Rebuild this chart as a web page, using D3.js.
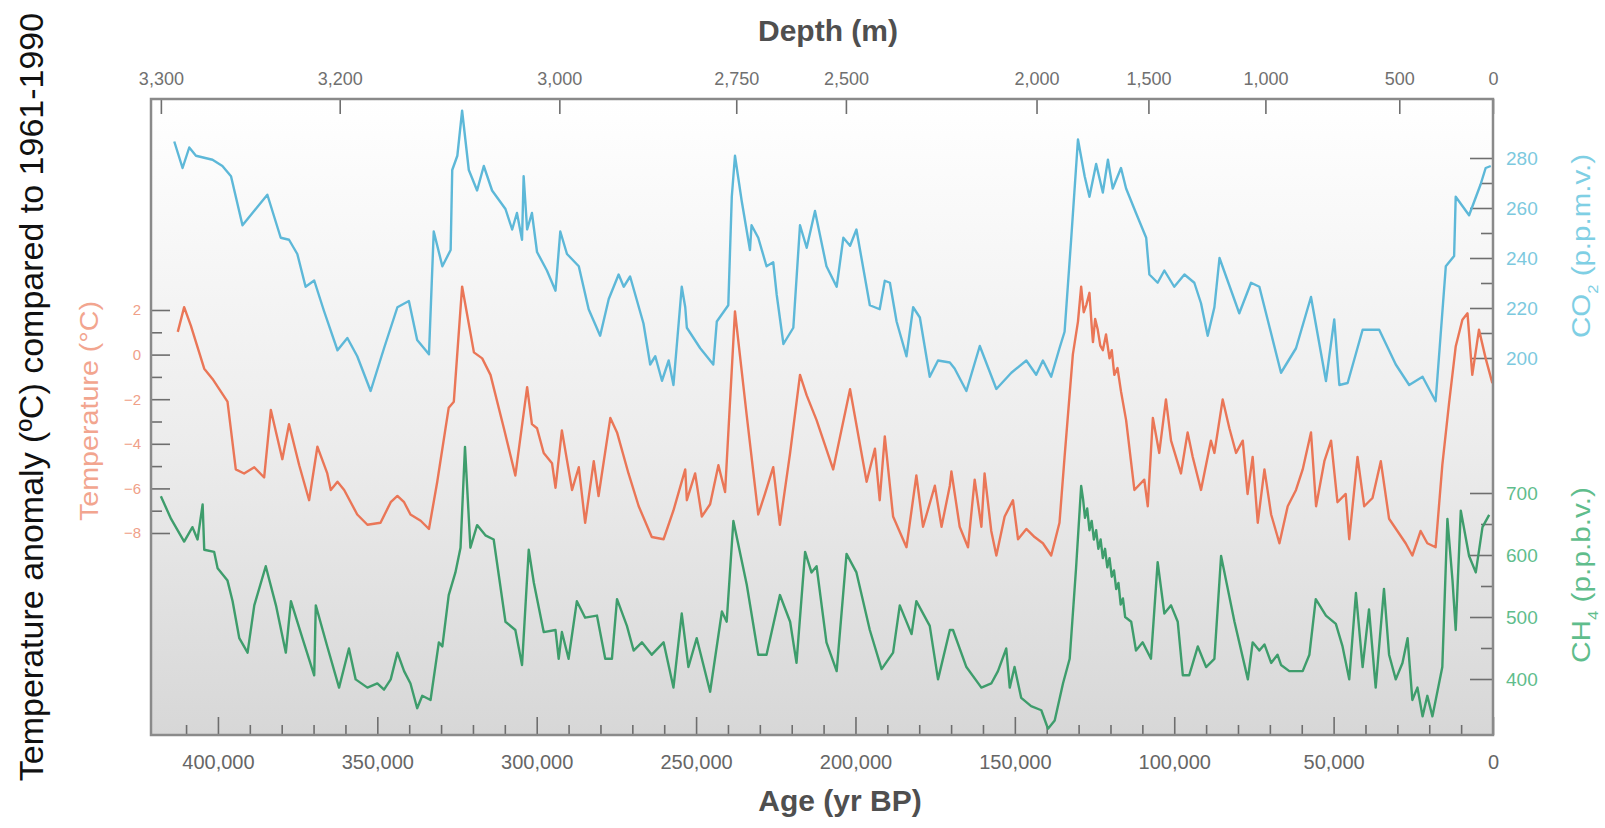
<!DOCTYPE html>
<html>
<head>
<meta charset="utf-8">
<script src="https://cdn.jsdelivr.net/npm/d3@7"></script>
<style>
  body { margin: 0; background: #fff; }
  svg { display: block; font-family: "Liberation Sans", Arial, Helvetica, sans-serif; }
</style>
</head>
<body>
<div id="chart"></div>
<script>
// ages are in thousands of years BP
const co2Data = [
  [413.7,286.6],[411.1,276.0],[409.0,284.2],[406.9,280.9],[401.7,279.3],[398.6,276.8],[395.9,272.7],[392.3,253.1],
  [384.5,265.3],[380.3,248.1],[377.7,247.3],[375.1,241.6],[372.5,228.5],[369.8,231.0],[366.7,218.7],[362.5,203.1],
  [359.4,208.0],[356.3,200.7],[352.1,186.8],[347.9,203.9],[343.7,220.3],[340.1,222.8],[337.5,207.2],
  [333.8,201.5],[332.3,250.6],[329.6,236.7],[327.0,243.2],[326.5,275.2],[324.9,280.9],[323.4,298.9],[321.3,275.2],
  [318.7,267.0],[316.6,276.8],[314.0,267.0],[309.8,259.6],[307.7,251.4],[306.2,258.0],[304.6,247.3],[304.1,272.7],
  [303.0,251.4],[301.5,258.0],[299.9,242.4],[296.8,235.0],[294.1,226.9],[292.6,250.6],[290.5,241.6],[286.8,236.7],
  [283.7,219.5],[280.1,208.9],[277.4,223.6],[274.3,233.4],[272.7,228.5],[270.7,232.6],[266.5,213.8],[264.4,197.4],
  [262.8,200.7],[260.7,190.9],[258.6,199.0],[257.1,189.2],[254.5,228.5],[253.4,220.3],
  [252.9,212.1],[248.7,203.9],[244.6,197.4],[243.5,214.6],[239.9,221.1],[238.8,264.5],[237.8,280.9],[235.7,262.9],
  [233.1,243.2],[232.6,253.1],[230.5,248.1],[227.9,236.7],[225.8,238.3],[224.7,225.2],[222.6,205.6],[219.5,212.1],
  [217.4,253.1],[215.3,244.1],[212.7,258.8],[209.1,236.7],[205.9,228.5],[203.8,248.1],[201.7,244.9],[199.7,251.4],
  [195.5,221.1],[192.4,219.5],[190.8,230.9],[189.2,230.1],[187.1,214.6],[184.0,200.7],[181.9,220.3],[179.8,216.2],
  [176.7,192.5],[174.1,199.0],[170.4,198.2],
  [168.9,195.8],[165.2,186.8],[161.0,204.8],[155.8,187.6],[151.1,194.1],[146.4,199.0],[143.3,193.3],[141.2,199.0],
  [138.6,192.5],[136.0,203.9],[134.4,210.5],[132.3,248.1],[130.2,287.4],[128.1,272.7],[126.6,264.5],[124.5,277.6],
  [122.4,266.2],[120.8,279.3],[119.3,267.8],[116.7,276.0],[115.1,267.8],[112.0,258.0],[108.8,248.1],[107.8,233.4],
  [105.2,230.1],[103.1,235.0],[100.0,228.5],[96.8,233.4],[93.7,230.1],[91.6,221.9],[89.5,208.9],[87.4,220.3],
  [85.8,240.0],[79.6,217.9],[75.9,230.1],[73.3,228.5],[66.5,194.1],[61.8,203.9],[57.1,224.4],[52.4,190.8],
  [49.8,215.4],[48.2,189.2],[45.6,190.0],[40.9,211.3],[35.7,211.3],[30.5,197.4],[26.3,189.2],[22.1,192.5],
  [18.0,182.7],[14.8,236.7],[12.2,240.8],[11.7,264.5],[7.5,257.1],[3.9,269.4],[2.3,276.0],[0.7,276.8]
];

const tempData = [
  [412.6,1.02],[410.6,2.13],[408.5,1.30],[404.3,-0.63],[401.7,-1.09],[397.0,-2.11],[394.4,-5.15],[391.8,-5.33],
  [388.6,-5.05],[385.5,-5.51],[383.4,-2.48],[379.8,-4.69],[377.7,-3.12],[374.5,-4.96],[371.4,-6.53],[368.8,-4.13],
  [365.7,-5.33],[364.6,-6.07],[362.5,-5.70],[360.4,-6.07],[356.3,-7.17],[353.1,-7.63],[349.0,-7.54],[345.8,-6.62],
  [343.7,-6.34],[341.6,-6.62],[339.6,-7.17],[336.4,-7.45],
  [333.8,-7.82],[331.2,-5.70],[327.6,-2.38],[326.0,-2.11],[323.4,3.05],[319.7,0.10],[317.1,-0.17],[314.5,-0.91],
  [310.3,-3.30],[306.7,-5.42],[303.0,-1.46],[301.5,-3.12],[299.9,-3.30],[297.8,-4.41],[295.2,-4.87],[294.1,-5.97],
  [292.1,-3.40],[288.9,-6.07],[286.8,-5.05],[284.8,-7.54],[282.1,-4.78],[280.6,-6.34],[276.9,-2.84],[274.8,-3.49],
  [271.2,-5.33],[268.0,-6.80],[263.9,-8.18],[260.2,-8.28],[257.1,-6.99],[253.4,-5.15],
  [252.9,-6.53],[250.3,-5.33],[248.2,-7.26],[245.6,-6.71],[243.0,-4.96],[240.9,-6.16],[237.8,1.94],[234.1,-2.75],
  [230.5,-7.17],[228.4,-6.25],[225.8,-5.05],[223.7,-7.63],[220.5,-4.41],[217.4,-0.91],[215.3,-1.83],[212.2,-2.94],
  [207.0,-5.15],[201.7,-1.55],[196.5,-5.70],[193.9,-4.22],[192.4,-6.53],[190.8,-3.67],[188.2,-7.26],[184.0,-8.64],
  [180.9,-5.42],[178.8,-7.72],[175.1,-5.88],[173.0,-7.72],[170.4,-5.88],
  [169.9,-5.24],[167.3,-7.72],[164.7,-8.64],[162.6,-5.61],[160.5,-7.72],[159.5,-5.33],[157.4,-7.91],[155.8,-9.01],
  [153.2,-7.26],[150.6,-6.53],[149.0,-8.28],[146.4,-7.82],[143.8,-8.18],[141.2,-8.46],[138.6,-9.01],[136.0,-7.54],
  [134.4,-4.59],[131.8,0.01],[130.2,1.48],[129.2,3.05],[128.4,1.9],[127.6,2.22],[126.6,2.77],[125.9,1.3],
  [125.5,0.56],[124.8,1.6],[124.0,1.12],[123.2,0.4],[122.4,0.20],[121.4,0.9],[120.3,-0.17],[119.6,0.2],
  [118.8,-0.91],[117.8,-0.6],[116.7,-1.65],[115.1,-2.94],[112.5,-6.07],[109.4,-5.61],[108.3,-6.80],[106.7,-2.84],
  [104.7,-4.41],[102.6,-2.01],[101.0,-3.86],[97.9,-5.33],[95.8,-3.49],[94.2,-4.59],[91.6,-6.07],[88.5,-3.86],
  [87.4,-4.41],
  [84.8,-2.01],[82.7,-3.30],[80.6,-4.41],[78.5,-3.86],[77.0,-6.25],[75.4,-4.59],[73.8,-7.54],[71.7,-5.15],
  [69.6,-7.17],[67.0,-8.46],[64.4,-6.80],[61.8,-6.07],[59.7,-5.15],[57.1,-3.49],[55.5,-6.80],[52.9,-4.78],
  [50.8,-3.86],[48.8,-6.62],[46.2,-6.25],[45.1,-8.28],[42.5,-4.59],[40.4,-6.80],[37.8,-6.43],[35.2,-4.78],
  [32.6,-7.36],[30.0,-7.91],[27.4,-8.46],[25.3,-9.01],[22.7,-7.91],[20.6,-8.46],[18.0,-8.64],[15.9,-4.96],
  [13.8,-2.20],[11.7,0.36],[9.6,1.56],[8.0,1.85],[6.5,-0.91],[4.4,1.12],[2.3,-0.17],[0.2,-1.28]
];

const ch4Data = [
  [417.9,694.7],[414.7,658.2],[410.6,621.7],[408.0,644.9],[406.4,625.0],[404.8,681.4],[404.3,608.4],[401.2,605.1],
  [400.1,578.6],[397.0,558.7],[395.4,525.5],[393.3,465.8],[390.7,442.5],[388.6,518.8],[385.0,581.9],[381.8,518.8],
  [378.7,442.5],[377.1,525.5],[373.5,465.8],[369.8,406.0],[369.3,518.8],[365.7,452.5],[362.0,386.1],[358.9,449.2],
  [356.8,399.4],[353.1,386.1],[350.0,392.8],[347.9,382.8],[345.8,399.4],[343.7,442.5],[341.6,412.7],[339.6,392.8],
  [337.5,352.9],
  [335.9,372.9],[333.3,366.2],[330.7,459.1],[329.6,452.5],[327.6,535.4],[325.5,571.9],[323.9,611.7],[322.5,774.3],
  [320.8,611.7],[318.7,648.2],[316.1,631.7],[313.5,625.0],[309.8,492.3],[306.7,479.0],[304.6,422.6],[302.5,608.4],
  [300.9,555.3],[297.8,475.7],[294.1,479.0],[293.1,432.6],[292.1,475.7],[290.0,432.6],[287.4,525.5],[284.8,498.9],
  [281.1,502.3],[278.5,432.6],[276.4,432.6],[274.8,528.8],[271.7,485.7],[269.6,445.9],[267.0,459.1],[263.9,439.2],
  [260.2,459.1],[257.1,386.1],[254.5,505.6],
  [252.4,419.3],[249.8,465.8],[245.6,379.5],[241.9,508.9],[240.4,492.3],[238.3,654.9],[234.1,552.0],[230.5,439.2],
  [227.9,439.2],[223.7,535.4],[220.5,492.3],[218.5,426.0],[215.8,605.1],[213.8,571.9],[212.2,581.9],[209.1,459.1],
  [205.9,412.7],[202.8,601.8],[199.7,571.9],[195.5,479.0],[191.8,416.0],[188.2,442.5],[186.1,518.8],[182.4,472.4],
  [180.9,525.5],[176.7,485.7],[174.1,399.4],[170.4,479.0],
  [169.4,479.0],[165.2,419.3],[160.5,386.1],[157.4,392.8],[155.3,412.7],[152.7,449.2],[151.6,386.1],[150.1,419.3],
  [148.0,369.5],[144.9,356.3],[141.7,349.6],[139.6,319.8],[137.5,333.0],[134.9,392.8],[132.8,432.6],[130.8,578.6],
  [129.2,711.3],[128.6,690],[128.0,660],[127.3,675],[126.6,640],[125.9,655],[125.2,625],[124.5,640],[123.8,610],
  [123.1,625],[122.4,595],[121.7,610],[121.0,580],[120.3,595],[119.6,565],[118.9,575],[118.2,545],[117.5,555],
  [116.8,520],[116.1,530],[115.4,500],[113.5,492.3],[112.0,445.9],[109.9,459.1],[107.3,432.6],[105.2,588.5],
  [103.1,505.6],[101.0,518.8],[98.9,492.3],[97.3,406.0],[95.3,406.0],[92.6,452.5],[90.0,419.3],[87.4,432.6],
  [85.3,598.5],[81.1,492.3],[76.9,399.4],[75.4,459.1],[73.3,445.9],[71.7,455.8],[69.6,425.9],[67.6,439.2],
  [66.5,422.6],[63.9,412.7],[59.7,412.7],[57.6,439.2],[55.6,528.8],[52.4,502.3],[49.3,488.9],[47.2,452.5],
  [45.1,399.4],[43.0,538.7],[40.9,419.3],[38.9,512.2],[36.8,386.1],[34.2,545.4],[32.6,439.2],[30.5,399.4],
  [28.4,425.9],[26.8,465.8],[25.3,366.2],[23.7,386.1],[22.1,339.7],[20.6,372.9],[19.0,339.7],[15.9,419.3],
  [14.3,658.2],[12.7,558.7],[11.7,479.0],[10.1,671.5],[7.5,598.5],[5.4,571.9],[3.3,644.9],[1.2,664.8]
];

const ageTicks = [400, 350, 300, 250, 200, 150, 100, 50, 0];
const ageMinorTicks = [410, 390, 380, 370, 360, 340, 330, 320, 310, 290, 280, 270, 260, 240, 230, 220, 210,
  190, 180, 170, 160, 140, 130, 120, 110, 90, 80, 70, 60, 40, 30, 20, 10];
const depthLabels = ["3,300", "3,200", "3,000", "2,750", "2,500", "2,000", "1,500", "1,000", "500", "0"];
const depthAges = [417.9, 361.8, 292.9, 237.4, 203.0, 143.2, 108.1, 71.4, 29.4, 0];
const tempTicks = [2, 0, -2, -4, -6, -8];
const tempMinorTicks = [1, -1, -3, -5, -7];
const co2Ticks = [280, 260, 240, 220, 200];
const co2MinorTicks = [270, 250, 230, 210];
const ch4Ticks = [700, 600, 500, 400];
const ch4MinorTicks = [650, 550, 450];

const width = 1605, height = 828;
const plot = { left: 151, right: 1493, top: 99, bottom: 735 };

const svg = d3.select("#chart").append("svg")
  .attr("width", width)
  .attr("height", height);

// background gradient of the plot box
const grad = svg.append("defs").append("linearGradient")
  .attr("id", "bg").attr("x1", 0).attr("y1", 0).attr("x2", 0).attr("y2", 1);
grad.append("stop").attr("offset", "0%").attr("stop-color", "#ffffff");
grad.append("stop").attr("offset", "55%").attr("stop-color", "#ececec");
grad.append("stop").attr("offset", "100%").attr("stop-color", "#d7d7d7");

svg.append("rect")
  .attr("x", plot.left).attr("y", plot.top)
  .attr("width", plot.right - plot.left).attr("height", plot.bottom - plot.top)
  .attr("fill", "url(#bg)");

const x = d3.scaleLinear().domain([421, 0]).range([plot.left, plot.right]);
const yTemp = d3.scaleLinear().domain([2, -8]).range([310, 533]);
const yCo2 = d3.scaleLinear().domain([280, 200]).range([158, 358]);
const yCh4 = d3.scaleLinear().domain([700, 400]).range([493, 679]);

function styleAxis(g, color, size) {
  g.select(".domain").remove();
  g.selectAll(".tick line").attr("stroke", "#6e6e6e").attr("stroke-width", 1.6);
  g.selectAll(".tick text").attr("fill", color).style("font-size", size + "px");
}

// bottom age axis
svg.append("g")
  .attr("transform", `translate(0,${plot.bottom})`)
  .call(d3.axisBottom(x).tickValues(ageMinorTicks).tickSize(-10).tickFormat(""))
  .call(g => styleAxis(g, "#666", 20));
svg.append("g")
  .attr("transform", `translate(0,${plot.bottom})`)
  .call(d3.axisBottom(x).tickValues(ageTicks).tickSize(-18).tickPadding(20)
    .tickFormat(d => d3.format(",")(d * 1000)))
  .call(g => styleAxis(g, "#666", 20));

// top depth axis
svg.append("g")
  .attr("transform", `translate(0,${plot.top})`)
  .call(d3.axisTop(x).tickValues(depthAges).tickSize(-15).tickPadding(14)
    .tickFormat((d, i) => depthLabels[i]))
  .call(g => styleAxis(g, "#707070", 18));

// left temperature axis
svg.append("g")
  .attr("transform", `translate(${plot.left},0)`)
  .call(d3.axisLeft(yTemp).tickValues(tempMinorTicks).tickSize(-11).tickFormat(""))
  .call(g => styleAxis(g, "#f0a088", 15));
svg.append("g")
  .attr("transform", `translate(${plot.left},0)`)
  .call(d3.axisLeft(yTemp).tickValues(tempTicks).tickSize(-19).tickPadding(10))
  .call(g => styleAxis(g, "#f0a088", 15));

// right CO2 axis
svg.append("g")
  .attr("transform", `translate(${plot.right},0)`)
  .call(d3.axisRight(yCo2).tickValues(co2MinorTicks).tickSize(-12).tickFormat(""))
  .call(g => styleAxis(g, "#7cc9de", 19));
svg.append("g")
  .attr("transform", `translate(${plot.right},0)`)
  .call(d3.axisRight(yCo2).tickValues(co2Ticks).tickSize(-23).tickPadding(13))
  .call(g => styleAxis(g, "#7cc9de", 19));

// right CH4 axis
svg.append("g")
  .attr("transform", `translate(${plot.right},0)`)
  .call(d3.axisRight(yCh4).tickValues(ch4MinorTicks).tickSize(-12).tickFormat(""))
  .call(g => styleAxis(g, "#5fbd8c", 19));
svg.append("g")
  .attr("transform", `translate(${plot.right},0)`)
  .call(d3.axisRight(yCh4).tickValues(ch4Ticks).tickSize(-23).tickPadding(13))
  .call(g => styleAxis(g, "#5fbd8c", 19));

// series
const series = [
  { data: co2Data, y: yCo2, color: "#5db8d8" },
  { data: tempData, y: yTemp, color: "#ea7657" },
  { data: ch4Data, y: yCh4, color: "#3e9d6c" }
];
series.forEach(s => {
  svg.append("path")
    .datum(s.data)
    .attr("fill", "none")
    .attr("stroke", s.color)
    .attr("stroke-width", 2.4)
    .attr("stroke-linejoin", "round")
    .attr("d", d3.line().x(d => x(d[0])).y(d => s.y(d[1])));
});

// frame
svg.append("rect")
  .attr("x", plot.left).attr("y", plot.top)
  .attr("width", plot.right - plot.left).attr("height", plot.bottom - plot.top)
  .attr("fill", "none").attr("stroke", "#8a8a8a").attr("stroke-width", 2.5);

// titles
svg.append("text")
  .attr("x", 828).attr("y", 41)
  .attr("text-anchor", "middle")
  .attr("fill", "#4f4f4f").style("font-size", "30px").style("font-weight", "bold")
  .text("Depth (m)");

svg.append("text")
  .attr("x", 840).attr("y", 811)
  .attr("text-anchor", "middle")
  .attr("fill", "#4f4f4f").style("font-size", "30px").style("font-weight", "bold")
  .text("Age (yr BP)");

svg.append("text")
  .attr("transform", "translate(43,397) rotate(-90)")
  .attr("text-anchor", "middle")
  .attr("fill", "#111").style("font-size", "34px")
  .text("Temperature anomaly (ºC) compared to 1961-1990");

svg.append("text")
  .attr("transform", "translate(98,411) rotate(-90)")
  .attr("text-anchor", "middle")
  .attr("textLength", 220).attr("lengthAdjust", "spacingAndGlyphs")
  .attr("fill", "#f2a58f").style("font-size", "25px")
  .text("Temperature (°C)");

const co2Title = svg.append("text")
  .attr("transform", "translate(1590,246) rotate(-90)")
  .attr("text-anchor", "middle")
  .attr("textLength", 184).attr("lengthAdjust", "spacingAndGlyphs")
  .attr("fill", "#7fcfe4").style("font-size", "25px");
co2Title.append("tspan").text("CO");
co2Title.append("tspan").attr("baseline-shift", "sub").style("font-size", "14px").text("2");
co2Title.append("tspan").text(" (p.p.m.v.)");

const ch4Title = svg.append("text")
  .attr("transform", "translate(1590,575) rotate(-90)")
  .attr("text-anchor", "middle")
  .attr("textLength", 176).attr("lengthAdjust", "spacingAndGlyphs")
  .attr("fill", "#5fbd8c").style("font-size", "25px");
ch4Title.append("tspan").text("CH");
ch4Title.append("tspan").attr("baseline-shift", "sub").style("font-size", "14px").text("4");
ch4Title.append("tspan").text(" (p.p.b.v.)");
</script>
</body>
</html>
